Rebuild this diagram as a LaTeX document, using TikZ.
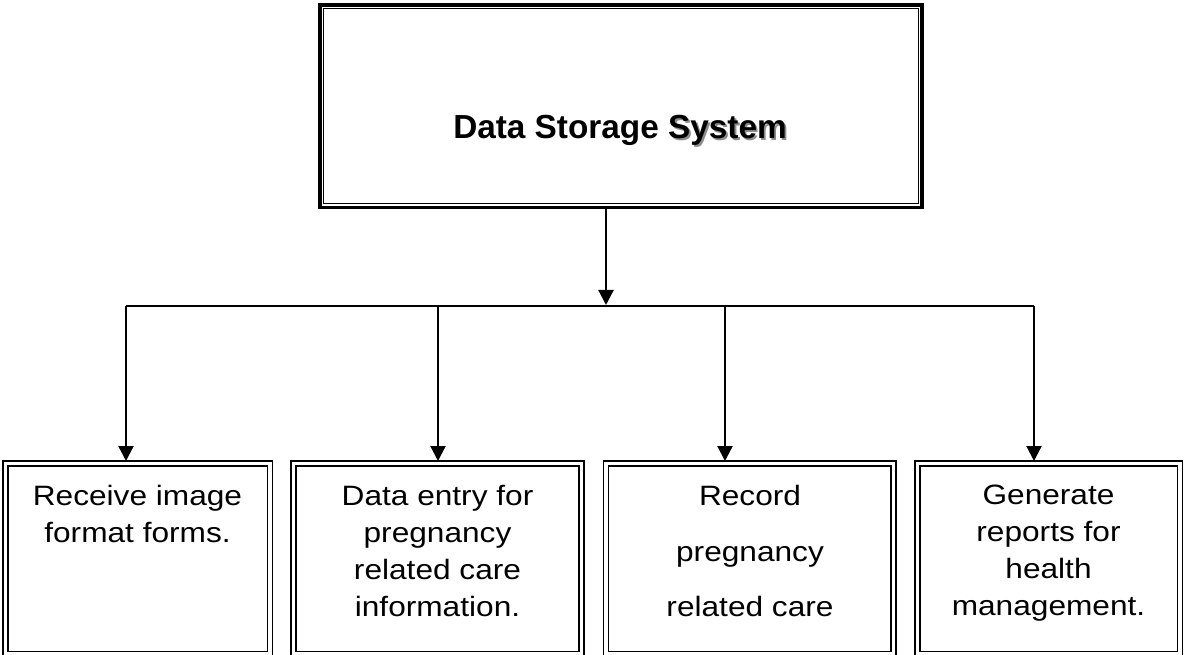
\documentclass[tikz,border=0pt]{standalone}
\usepackage{fontspec}
\setmainfont{Liberation Sans}
\newfontfamily\boxfont[FakeStretch=1.13]{Liberation Sans}
\usetikzlibrary{arrows.meta}

% shadowed word as in the heading
\newcommand{\shadeword}[1]{\makebox[0pt][l]{\hspace{1.4pt}\raisebox{-1.4pt}{\color{black!45}#1}}#1}

\begin{document}
\begin{tikzpicture}[x=0.75pt,y=-0.75pt,
  box/.style={draw, line width=1.3pt, inner sep=0pt, outer sep=0pt,
    minimum width=#1*0.75pt, minimum height=195.5*0.75pt},
  topbox/.style={draw, line width=2.5pt, inner sep=0pt, outer sep=0pt,
    minimum width=602*0.75pt, minimum height=202.5*0.75pt},
  txt/.style={anchor=north, inner sep=0pt, align=center,
    font=\boxfont\fontsize{21}{27.75}\selectfont},
  arr/.style={line width=1.7pt, -{Triangle[width=11.25pt,length=11.25pt]}}]
\useasboundingbox (0,0) rectangle (1184,655);

\node[topbox] (top) at (621,106.25) {};
\draw[line width=1pt] ([xshift=2.8pt,yshift=-2.8pt]top.north west) rectangle ([xshift=-2.8pt,yshift=2.8pt]top.south east);
\node[anchor=base, inner sep=0pt, font=\bfseries\fontsize{25}{30}\selectfont] (title) at (620,139) {Data Storage \shadeword{System}};

\node[box=269.5] (b1) at (137.75,558.75) {};
\node[box=293] (b2) at (437.5,558.75) {};
\node[box=292.5] (b3) at (749.75,558.75) {};
\node[box=267.5] (b4) at (1048.75,558.75) {};
\foreach \b in {b1,b2,b3,b4}
  \draw[line width=1.3pt] ([xshift=3.75pt,yshift=-3.75pt]\b.north west) rectangle ([xshift=-3.75pt,yshift=3.75pt]\b.south east);

\node[txt] (t1) at (137.5,485) {Receive image\\format forms.};
\node[txt] (t2) at (437.5,485) {Data entry for\\pregnancy\\related care\\information.};
\node[txt] (t3) at (750,485) {Record\\[14pt]pregnancy\\[14pt]related care};
\node[txt] (t4) at (1048.5,485) {Generate\\reports for\\health\\management.};

% bus
\coordinate (mid) at (606,305);
\coordinate (d1) at (126,306);
\coordinate (d2) at (438,306);
\coordinate (d3) at (725,306);
\coordinate (d4) at (1034,306);
\draw[arr] (top.south -| mid) -- (mid);
\draw[line width=1.3pt] (d1) -- (d4);
\foreach \d/\b in {d1/b1,d2/b2,d3/b3,d4/b4}
  \draw[arr] (\d) -- (\d |- \b.north);
\end{tikzpicture}
\end{document}
